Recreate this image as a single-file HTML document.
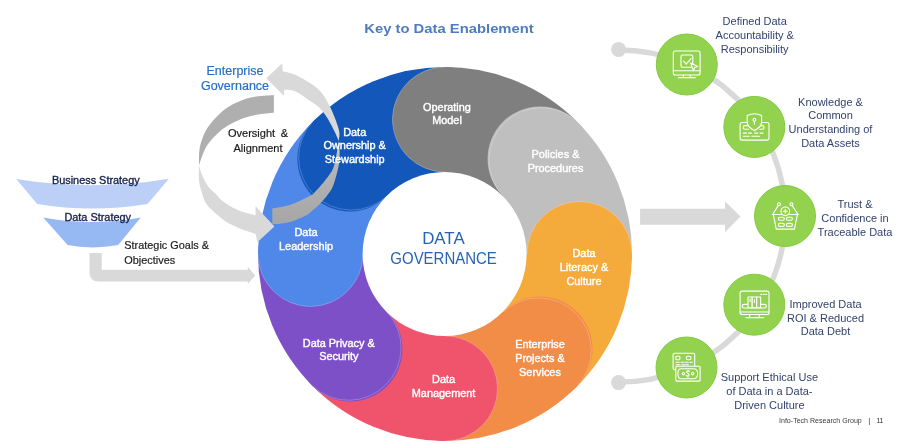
<!DOCTYPE html>
<html><head><meta charset="utf-8"><style>
html,body{margin:0;padding:0;background:#fff;width:900px;height:444px;overflow:hidden}
svg{display:block;will-change:transform;font-family:"Liberation Sans",sans-serif}
</style></head><body>
<svg width="900" height="444" viewBox="0 0 900 444">
<defs><clipPath id="cl0"><rect x="0" y="0" width="445" height="444"/></clipPath><linearGradient id="gr1" x1="0" y1="0" x2="0" y2="1"><stop offset="0" stop-color="#cfcfcf"/><stop offset="0.35" stop-color="#b4b4b4"/><stop offset="1" stop-color="#a6a6a6"/></linearGradient></defs>
<path d="M445 254 L445 67 A187 187 0 0 1 577.2 121.8 Z" fill="#7f7f7f"/>
<path d="M445 254 L577.2 121.8 A187 187 0 0 1 632 254 Z" fill="#bfbfbf"/>
<path d="M445 254 L632 254 A187 187 0 0 1 577.2 386.2 Z" fill="#f5aa3c"/>
<path d="M445 254 L577.2 386.2 A187 187 0 0 1 445 441 Z" fill="#f28d48"/>
<path d="M445 254 L445 441 A187 187 0 0 1 312.8 386.2 Z" fill="#f0536c"/>
<path d="M445 254 L312.8 386.2 A187 187 0 0 1 258 254 Z" fill="#7e50c7"/>
<path d="M445 254 L258 254 A187 187 0 0 1 312.8 121.8 Z" fill="#5088e9"/>
<path d="M445 254 L312.8 121.8 A187 187 0 0 1 445 67 Z" fill="#1357bb"/>
<circle cx="445" cy="119.5" r="52.5" fill="#7f7f7f"/>
<circle cx="540.1" cy="158.9" r="52.5" fill="#bfbfbf"/>
<circle cx="579.5" cy="254" r="52.5" fill="#f5aa3c"/>
<circle cx="540.1" cy="349.1" r="52.5" fill="#f28d48"/>
<circle cx="445" cy="388.5" r="52.5" fill="#f0536c"/>
<circle cx="349.9" cy="349.1" r="52.5" fill="#7e50c7"/>
<circle cx="310.5" cy="254" r="52.5" fill="#5088e9"/>
<circle cx="349.9" cy="158.9" r="52.5" fill="#1357bb"/>
<circle cx="445" cy="119.5" r="52.5" fill="#7f7f7f" clip-path="url(#cl0)"/>
<path d="M445 67 A52.5 52.5 0 0 0 445 172" fill="none" stroke="#ffffff" stroke-opacity="0.28" stroke-width="0.8"/>
<path d="M577.2 121.8 A52.5 52.5 0 0 0 503 196" fill="none" stroke="#ffffff" stroke-opacity="0.28" stroke-width="0.8"/>
<path d="M632 254 A52.5 52.5 0 0 0 527 254" fill="none" stroke="#ffffff" stroke-opacity="0.28" stroke-width="0.8"/>
<path d="M577.2 386.2 A52.5 52.5 0 0 0 503 312" fill="none" stroke="#ffffff" stroke-opacity="0.28" stroke-width="0.8"/>
<path d="M445 441 A52.5 52.5 0 0 0 445 336" fill="none" stroke="#ffffff" stroke-opacity="0.28" stroke-width="0.8"/>
<path d="M312.8 386.2 A52.5 52.5 0 0 0 387 312" fill="none" stroke="#ffffff" stroke-opacity="0.28" stroke-width="0.8"/>
<path d="M258 254 A52.5 52.5 0 0 0 363 254" fill="none" stroke="#ffffff" stroke-opacity="0.28" stroke-width="0.8"/>
<path d="M312.8 121.8 A52.5 52.5 0 0 0 387 196" fill="none" stroke="#ffffff" stroke-opacity="0.28" stroke-width="0.8"/>
<circle cx="444.6" cy="254" r="82" fill="#fff"/>
<path d="M273.9 95.1 L272.5 95.2 L270.7 95.3 L268.5 95.4 L266.1 95.5 L263.5 95.7 L260.9 95.9 L258.5 96.2 L256.2 96.5 L254.1 96.9 L252 97.3 L250 97.8 L248 98.3 L246 98.8 L244 99.5 L242 100.2 L240 101 L238 101.9 L236 102.8 L233.9 103.8 L231.9 104.8 L229.9 106 L227.9 107.2 L225.9 108.6 L224 110 L222.1 111.6 L220.1 113.4 L218.1 115.3 L216.2 117.3 L214.3 119.3 L212.5 121.3 L210.9 123.2 L209.5 125 L208.3 126.7 L207.2 128.3 L206.2 129.9 L205.4 131.5 L204.7 133 L204 134.5 L203.3 136 L202.7 137.6 L202.1 139.2 L201.6 140.7 L201.1 142.2 L200.6 143.7 L200.3 145.3 L199.9 146.9 L199.6 148.5 L199.4 150.2 L199.2 152.1 L199.1 154.2 L199 156.3 L199 158.5 L199 160.6 L199 162.5 L199 164.1 L199 165.3 L199 165.3 L199.2 164.7 L199.5 163.9 L199.8 162.9 L200.1 161.8 L200.5 160.7 L200.9 159.4 L201.3 158.2 L201.8 157 L202.3 155.8 L202.8 154.5 L203.3 153.1 L203.9 151.7 L204.5 150.3 L205.1 149 L205.8 147.6 L206.6 146.3 L207.4 145 L208.3 143.8 L209.2 142.6 L210.1 141.4 L211.1 140.2 L212.2 139 L213.3 137.8 L214.4 136.6 L215.6 135.4 L216.8 134.2 L218 133.1 L219.2 131.9 L220.6 130.7 L222 129.6 L223.4 128.5 L225 127.4 L226.7 126.3 L228.4 125.3 L230.3 124.2 L232.2 123.2 L234.1 122.2 L236.1 121.3 L238 120.4 L240 119.6 L242 118.8 L243.9 118.1 L245.9 117.5 L247.9 116.8 L250 116.3 L252 115.7 L254.1 115.3 L256.2 114.8 L258.5 114.4 L260.9 114 L263.5 113.7 L266.1 113.4 L268.5 113.2 L270.7 113 L272.5 112.8 L273.9 112.7 Z" fill="#afafaf"/>
<path d="M199 165.3 L199 166.5 L198.9 168 L198.9 169.9 L198.8 172 L198.8 174.1 L198.8 176.3 L198.9 178.4 L199 180.3 L199.2 182 L199.5 183.8 L199.8 185.5 L200.2 187.1 L200.7 188.8 L201.1 190.4 L201.6 191.9 L202.1 193.5 L202.6 195 L203 196.4 L203.4 197.8 L203.9 199.2 L204.5 200.6 L205.2 202 L206.1 203.5 L207.2 205 L208.6 206.7 L210.3 208.5 L212.2 210.3 L214.3 212.2 L216.4 214.1 L218.4 215.8 L220.3 217.4 L222 218.8 L223.5 219.9 L224.9 220.9 L226.1 221.7 L227.3 222.4 L228.5 223.1 L229.7 223.7 L230.9 224.3 L232.1 224.9 L233.3 225.5 L234.6 226.1 L235.8 226.7 L237 227.2 L238.2 227.8 L239.5 228.3 L240.9 228.8 L242.3 229.4 L243.9 230 L245.7 230.7 L247.6 231.3 L249.6 232 L251.5 232.6 L253.1 233.2 L254.6 233.6 L255.6 234 L257.3 242.3 L274.4 226.6 L255.5 206.1 L255.6 215.3 L254.6 215 L253.1 214.7 L251.5 214.3 L249.6 213.8 L247.6 213.3 L245.7 212.7 L243.9 212.2 L242.3 211.7 L240.9 211.2 L239.5 210.7 L238.2 210.2 L237 209.6 L235.8 209.1 L234.6 208.5 L233.3 207.9 L232.1 207.2 L230.8 206.5 L229.5 205.7 L228.1 204.9 L226.8 204 L225.5 203.1 L224.2 202.3 L223.1 201.4 L222 200.6 L221.1 199.8 L220.3 199.1 L219.6 198.4 L219 197.6 L218.4 196.9 L217.8 196.2 L217.1 195.4 L216.3 194.5 L215.4 193.6 L214.4 192.7 L213.4 191.7 L212.3 190.8 L211.2 189.8 L210.1 188.7 L209.1 187.6 L208.2 186.4 L207.3 185.1 L206.5 183.8 L205.6 182.4 L204.8 180.9 L204.1 179.4 L203.4 178 L202.7 176.6 L202.1 175.2 L201.5 173.8 L201 172.4 L200.6 171 L200.2 169.5 L199.8 168.2 L199.5 167 L199.2 166.1 L199 165.3 Z" fill="#d9d9d9"/>
<path d="M338.8 141 L338.9 141.8 L339 142.9 L339.1 144.2 L339.3 145.7 L339.4 147.2 L339.5 148.9 L339.6 150.5 L339.6 152 L339.6 153.5 L339.6 154.9 L339.6 156.4 L339.6 157.9 L339.5 159.5 L339.4 161.2 L339.1 163 L338.8 165 L338.3 167.2 L337.8 169.8 L337.1 172.5 L336.4 175.2 L335.6 178 L334.9 180.6 L334.1 183 L333.4 185 L332.7 186.7 L332.1 188.1 L331.5 189.3 L330.9 190.3 L330.2 191.3 L329.5 192.2 L328.8 193.2 L328 194.3 L327.1 195.5 L326.2 196.7 L325.2 197.9 L324.2 199.1 L323.1 200.3 L322.1 201.5 L321 202.6 L320 203.7 L319 204.7 L318 205.7 L316.9 206.7 L315.9 207.6 L314.9 208.5 L313.9 209.3 L312.9 210.1 L312 210.9 L311.2 211.6 L310.6 212.2 L310 212.7 L309.5 213.2 L308.9 213.7 L308.2 214.2 L307.2 214.8 L306 215.4 L304.5 216.2 L302.7 217 L300.8 217.9 L298.7 218.8 L296.6 219.7 L294.4 220.6 L292.1 221.4 L290 222 L287.7 222.5 L285.3 223 L282.7 223.3 L280.1 223.7 L277.7 223.9 L275.5 224.1 L273.7 224.3 L272.3 224.5 L272.3 208.4 L273.6 208.2 L275.4 207.9 L277.5 207.6 L279.9 207.2 L282.4 206.8 L285 206.2 L287.6 205.6 L290 204.9 L292.5 204 L295.2 202.9 L298 201.7 L300.8 200.4 L303.5 199.1 L306 197.9 L308.2 196.8 L310 195.9 L311.3 195.2 L312.1 194.8 L312.6 194.6 L312.9 194.3 L313.2 194.1 L313.5 193.7 L314.1 193 L315 192 L316.3 190.6 L317.8 188.9 L319.6 186.9 L321.4 184.8 L323.3 182.7 L325 180.5 L326.6 178.5 L328 176.7 L329.1 175.1 L330.1 173.8 L330.9 172.6 L331.7 171.4 L332.4 170.1 L333 168.7 L333.6 167 L334.3 165 L335 162.4 L335.7 159.3 L336.3 155.8 L336.9 152.3 L337.5 148.8 L338 145.6 L338.5 142.9 L338.8 141 Z" fill="url(#gr1)"/>
<path d="M282.3 63.2 L282.7 71.2 L283.6 71.4 L284.8 71.7 L286.3 72.1 L287.9 72.5 L289.6 73 L291.4 73.5 L293.2 74.1 L295 74.8 L296.8 75.6 L298.7 76.5 L300.6 77.5 L302.6 78.6 L304.6 79.7 L306.5 80.9 L308.3 82 L310 83 L311.5 84 L313 85 L314.3 86.1 L315.6 87.1 L316.8 88.1 L318 89.1 L319 90 L320 91 L320.9 91.9 L321.6 92.7 L322.2 93.4 L322.8 94.2 L323.3 95 L323.9 95.9 L324.5 96.8 L325.2 98 L326 99.3 L326.8 100.7 L327.6 102.2 L328.5 103.8 L329.4 105.4 L330.3 107.2 L331.1 109 L332 111 L332.9 113.1 L333.9 115.5 L334.9 118 L335.9 120.6 L336.8 123.2 L337.7 125.7 L338.4 128 L338.9 130 L339.2 131.8 L339.4 133.6 L339.4 135.2 L339.3 136.7 L339.1 138 L339 139.2 L338.9 140.2 L338.8 141 L338.8 141 L338.4 140.2 L338 139.1 L337.4 137.8 L336.8 136.4 L336.1 134.8 L335.4 133.2 L334.6 131.6 L333.8 130 L333 128.4 L332.1 126.6 L331.1 124.8 L330.1 122.9 L329.1 121 L328 119.2 L327 117.6 L326 116 L325 114.6 L324 113.3 L323.1 112 L322.1 110.8 L321.1 109.7 L320.1 108.6 L319.1 107.6 L318 106.6 L316.9 105.7 L315.9 104.8 L314.8 104 L313.7 103.3 L312.6 102.5 L311.4 101.7 L310.1 100.9 L308.7 100 L307.2 99 L305.5 97.8 L303.8 96.5 L301.9 95.3 L300.1 94.1 L298.3 92.9 L296.6 92 L295 91.2 L293.4 90.7 L291.8 90.3 L290.3 90 L288.7 89.9 L287.3 89.8 L286.1 89.8 L285 89.8 L284.2 89.7 L283.8 95.8 L266.3 78.3 Z" fill="#d9d9d9"/>
<path d="M16.2 179.1 Q92.3 191.5 168.9 178.7 L147.5 203.9 Q92.3 212.9 37.2 203.9 Z" fill="#bbcff7"/>
<path d="M43.2 217.4 Q92.3 226.6 140.8 217.4 L118.2 245 Q92.3 249.8 67.6 245 Z" fill="#97b9f3"/>
<path d="M89.5 253 L101.7 253 L101.7 269.8 L247.8 269.8 L247.8 266.7 L255.2 275.5 L247.8 284 L247.8 281.4 L98.5 281.4 Q89.5 281.4 89.5 272.4 Z" fill="#d9d9d9"/>
<path d="M640.1 208.8 L725 208.8 L725 201.3 L740.5 216.4 L725 232.2 L725 224.7 L640.1 224.7 Z" fill="#d9d9d9"/>
<path d="M619.2 49.9 A166.1 166.1 0 0 1 619.2 382.1" fill="none" stroke="#d9d9d9" stroke-width="5.5"/>
<circle cx="618.6" cy="49.4" r="7.5" fill="#d9d9d9"/><circle cx="618.6" cy="382.6" r="7.5" fill="#d9d9d9"/>
<circle cx="686.8" cy="64.5" r="30.5" fill="#93d24f" stroke="#82cb40" stroke-width="1"/>
<circle cx="754.3" cy="126.9" r="30.5" fill="#93d24f" stroke="#82cb40" stroke-width="1"/>
<circle cx="785" cy="216" r="30.5" fill="#93d24f" stroke="#82cb40" stroke-width="1"/>
<circle cx="754.3" cy="304.7" r="30.5" fill="#93d24f" stroke="#82cb40" stroke-width="1"/>
<circle cx="686.5" cy="367.5" r="30.5" fill="#93d24f" stroke="#82cb40" stroke-width="1"/>
<g fill="none" stroke="#ffffff" stroke-width="1.1" stroke-linecap="round" stroke-linejoin="round">
<!-- icon1 monitor check -->
<rect x="673.3" y="51" width="26.8" height="24" rx="2"/>
<line x1="673.3" y1="70.8" x2="700.1" y2="70.8"/>
<path d="M683.5 75 L683 77.4 M690 75 L690.5 77.4 M678.5 77.6 L695.3 77.6"/>
<rect x="681" y="55" width="11.8" height="12.2" rx="1.5"/>
<path d="M683.7 61.1 L686.2 64.2 L691 58.7"/>
<path d="M690.6 62.9 L697.7 66.6 L694.6 67.6 L693.4 70.8 Z" fill="#93d24f"/>
<!-- icon2 card shield -->
<rect x="740.1" y="122.5" width="28.9" height="17.6" rx="2"/>
<path d="M745 125.6 h3.5 M760 125.6 h2.2 a1.8 1.8 0 0 1 0 3.6 h-2.2 M745 125.6 a1.8 1.8 0 0 0 0 3.6 h3.5"/>
<path d="M747.2 115.6 Q754.4 112 761.6 115.6 L761.6 123 Q760.5 127.5 754.4 130.4 Q748.3 127.5 747.2 123 Z" fill="#93d24f"/>
<circle cx="754.4" cy="119.8" r="1.4"/>
<path d="M754.4 121.2 L754.4 124.3"/>
<path d="M743.3 133.1 h3.2 M748.6 133.1 h3 M754.6 133.1 h3.2 M760 133.1 h3 M743.3 136.3 h6 M751.8 136.3 h7.6"/>
<!-- icon3 basket -->
<circle cx="778.9" cy="204.2" r="1.5"/>
<circle cx="791.5" cy="204.2" r="1.5"/>
<path d="M778.2 205.6 L772.6 214.5 M792.2 205.6 L798.1 214.5 M772.4 214.5 L798.3 214.5"/>
<path d="M773.4 215.2 L776.3 229.1 L794.4 229.1 L797.3 215.2"/>
<circle cx="785.3" cy="211.3" r="4.3" fill="#93d24f"/>
<path d="M785.3 209.3 v4 M783.3 211.3 h4"/>
<rect x="778.4" y="217.3" width="6" height="3" rx="1.5"/>
<rect x="786.4" y="217.3" width="6" height="3" rx="1.5"/>
<rect x="778.4" y="223.4" width="6" height="3" rx="1.5"/>
<rect x="786.4" y="223.4" width="6" height="3" rx="1.5"/>
<!-- icon4 monitor books -->
<rect x="740.1" y="291.1" width="28.9" height="23.4" rx="2"/>
<line x1="740.1" y1="312" x2="769" y2="312"/>
<path d="M760.8 294.4 h0.8 M763.3 294.4 h0.8 M765.8 294.4 h0.8"/>
<path d="M750 314.5 L749.5 317.5 M759 314.5 L759.5 317.5 M745.9 317.6 L763.5 317.6"/>
<path d="M744 304.4 h20.5 a1.8 1.8 0 0 1 0 3.6 h-20.5 a1.8 1.8 0 0 1 0 -3.6 Z"/>
<rect x="748" y="297" width="4.2" height="10.8" fill="#93d24f"/>
<rect x="752.2" y="297" width="4.5" height="10.8" fill="#93d24f"/>
<rect x="756.7" y="297" width="3.9" height="10.8" fill="#93d24f"/>
<path d="M750.1 299 v2.5 M754.4 299.5 v3"/>
<!-- icon5 card money -->
<rect x="673.1" y="353.2" width="21.6" height="16.4" rx="1.5"/>
<rect x="675.9" y="356.2" width="4" height="3.6" rx="0.8"/>
<rect x="686.2" y="356.2" width="4.8" height="3.6" rx="1.8"/>
<path d="M676 362.3 h3.2 M681 362.3 h2.8 M685.3 362.3 h3 M690 362.3 h2.4 M676 364.7 h4 M682 364.7 h6.4"/>
<rect x="675.8" y="366.3" width="24.3" height="14.8" rx="1" fill="#93d24f"/>
<path d="M681 368.8 h12 q4.7 0 4.7 5 q0 5 -4.7 5 h-12 q-3.1 0 -3.1 -5 q0 -5 3.1 -5 Z"/>
<circle cx="683.4" cy="373.7" r="1.2"/>
<circle cx="692.6" cy="373.7" r="1.2"/>
<path d="M689.4 371.3 q-1.4 -0.9 -2.5 0 q-0.9 1.1 1 2.1 q1.8 0.9 0.9 2.1 q-1.1 0.9 -2.6 0 M688 370.2 v1 M688 376.3 v1"/>
</g>
<text x="449" y="32.9" font-size="13" fill="#4d7cbf" font-weight="bold" text-anchor="middle" textLength="169.5" lengthAdjust="spacingAndGlyphs"><tspan x="449" y="32.9">Key to Data Enablement</tspan></text>
<text x="447" y="110.8" font-size="10.9" fill="#ffffff" font-weight="normal" text-anchor="middle" stroke="#fff" stroke-width="0.4"><tspan x="447" y="110.8">Operating</tspan><tspan x="447" y="124.3">Model</tspan></text>
<text x="555.5" y="158" font-size="10.9" fill="#ffffff" font-weight="normal" text-anchor="middle" stroke="#fff" stroke-width="0.4"><tspan x="555.5" y="158">Policies &amp;</tspan><tspan x="555.5" y="171.6">Procedures</tspan></text>
<text x="584" y="257.4" font-size="10.9" fill="#ffffff" font-weight="normal" text-anchor="middle" stroke="#fff" stroke-width="0.4"><tspan x="584" y="257.4">Data</tspan><tspan x="584" y="271.1">Literacy &amp;</tspan><tspan x="584" y="284.8">Culture</tspan></text>
<text x="540" y="347.8" font-size="10.9" fill="#ffffff" font-weight="normal" text-anchor="middle" stroke="#fff" stroke-width="0.4"><tspan x="540" y="347.8">Enterprise</tspan><tspan x="540" y="362.1">Projects &amp;</tspan><tspan x="540" y="376.4">Services</tspan></text>
<text x="443.6" y="383" font-size="10.9" fill="#ffffff" font-weight="normal" text-anchor="middle" stroke="#fff" stroke-width="0.4"><tspan x="443.6" y="383">Data</tspan><tspan x="443.6" y="396.7">Management</tspan></text>
<text x="338.8" y="347" font-size="10.9" fill="#ffffff" font-weight="normal" text-anchor="middle" stroke="#fff" stroke-width="0.4"><tspan x="338.8" y="347">Data Privacy &amp;</tspan><tspan x="338.8" y="360.4">Security</tspan></text>
<text x="306" y="235.7" font-size="10.9" fill="#ffffff" font-weight="normal" text-anchor="middle" stroke="#fff" stroke-width="0.4"><tspan x="306" y="235.7">Data</tspan><tspan x="306" y="249.5">Leadership</tspan></text>
<text x="354.7" y="135.6" font-size="10.9" fill="#ffffff" font-weight="normal" text-anchor="middle" stroke="#fff" stroke-width="0.4"><tspan x="354.7" y="135.6">Data</tspan><tspan x="354.7" y="149.1">Ownership &amp;</tspan><tspan x="354.7" y="162.6">Stewardship</tspan></text>
<text x="443.4" y="243.6" font-size="16.9" fill="#2563b5" font-weight="normal" text-anchor="middle"><tspan x="443.4" y="243.6">DATA</tspan></text>
<text x="443.6" y="263.8" font-size="16.9" fill="#2563b5" font-weight="normal" text-anchor="middle" textLength="106.5" lengthAdjust="spacingAndGlyphs"><tspan x="443.6" y="263.8">GOVERNANCE</tspan></text>
<text x="235" y="74.8" font-size="12.5" fill="#2a6ec4" font-weight="normal" text-anchor="middle" stroke="#2a6ec4" stroke-width="0.2"><tspan x="235" y="74.8">Enterprise</tspan><tspan x="235" y="90.1">Governance</tspan></text>
<text x="258" y="137.3" font-size="11" fill="#1a1a1a" font-weight="normal" text-anchor="middle" stroke="#1a1a1a" stroke-width="0.2" word-spacing="2.5"><tspan x="258" y="137.3">Oversight &amp;</tspan></text>
<text x="258" y="151.8" font-size="11" fill="#1a1a1a" font-weight="normal" text-anchor="middle" stroke="#1a1a1a" stroke-width="0.2"><tspan x="258" y="151.8">Alignment</tspan></text>
<text x="95.8" y="183.6" font-size="10.9" fill="#17224f" font-weight="normal" text-anchor="middle" stroke="#17224f" stroke-width="0.35"><tspan x="95.8" y="183.6">Business Strategy</tspan></text>
<text x="97.7" y="220.8" font-size="10.9" fill="#17224f" font-weight="normal" text-anchor="middle" stroke="#17224f" stroke-width="0.35"><tspan x="97.7" y="220.8">Data Strategy</tspan></text>
<text x="124.3" y="249.4" font-size="10.9" fill="#1e1e1e" font-weight="normal" text-anchor="start" stroke="#1e1e1e" stroke-width="0.2"><tspan x="124.3" y="249.4">Strategic Goals &amp;</tspan><tspan x="124.3" y="264.1">Objectives</tspan></text>
<text x="754.7" y="24.8" font-size="11" fill="#34436e" font-weight="normal" text-anchor="middle"><tspan x="754.7" y="24.8">Defined Data</tspan><tspan x="754.7" y="38.7">Accountability &amp;</tspan><tspan x="754.7" y="52.6">Responsibility</tspan></text>
<text x="830.5" y="105.7" font-size="11" fill="#34436e" font-weight="normal" text-anchor="middle"><tspan x="830.5" y="105.7">Knowledge &amp;</tspan><tspan x="830.5" y="119.4">Common</tspan><tspan x="830.5" y="133.1">Understanding of</tspan><tspan x="830.5" y="146.8">Data Assets</tspan></text>
<text x="855" y="208.3" font-size="11" fill="#34436e" font-weight="normal" text-anchor="middle"><tspan x="855" y="208.3">Trust &amp;</tspan><tspan x="855" y="222.2">Confidence in</tspan><tspan x="855" y="236.1">Traceable Data</tspan></text>
<text x="825.5" y="308" font-size="11" fill="#34436e" font-weight="normal" text-anchor="middle"><tspan x="825.5" y="308">Improved Data</tspan><tspan x="825.5" y="321.5">ROI &amp; Reduced</tspan><tspan x="825.5" y="335">Data Debt</tspan></text>
<text x="769.4" y="381.4" font-size="11" fill="#34436e" font-weight="normal" text-anchor="middle"><tspan x="769.4" y="381.4">Support Ethical Use</tspan><tspan x="769.4" y="395.1">of Data in a Data-</tspan><tspan x="769.4" y="408.8">Driven Culture</tspan></text>
<text x="779" y="423" font-size="7.9" fill="#3a3a3a" font-weight="normal" text-anchor="start" textLength="82.8" lengthAdjust="spacingAndGlyphs"><tspan x="779" y="423">Info-Tech Research Group</tspan></text>
<text x="869.4" y="423" font-size="7.9" fill="#3a3a3a" font-weight="normal" text-anchor="middle"><tspan x="869.4" y="423">|</tspan></text>
<text x="876.6" y="423" font-size="7.4" fill="#3a3a3a" font-weight="normal" text-anchor="start" letter-spacing="-0.9"><tspan x="876.6" y="423">11</tspan></text>
</svg>
</body></html>
